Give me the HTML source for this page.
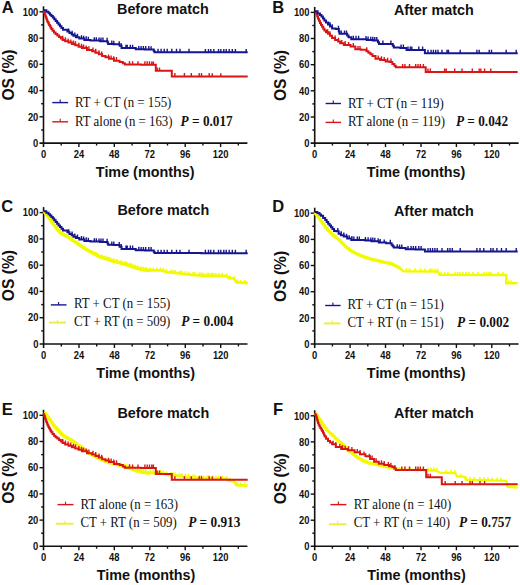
<!DOCTYPE html>
<html><head><meta charset="utf-8"><style>
html,body{margin:0;padding:0;background:#fff;}
body{width:520px;height:585px;overflow:hidden;}
svg{display:block;}
text{font-family:"Liberation Sans",sans-serif;fill:#111;}
.tk{font-size:10.4px;font-weight:bold;}
.tt{font-size:14.9px;font-weight:bold;}
.os{font-size:15.6px;font-weight:bold;}
.pl{font-size:16.5px;font-weight:bold;}
.lg{font-family:"Liberation Serif",serif;font-size:14.2px;fill:#111;}
.pv{font-family:"Liberation Serif",serif;font-size:14.2px;font-weight:bold;fill:#111;}
</style></head><body>
<svg width="520" height="585" viewBox="0 0 520 585">
<rect width="520" height="585" fill="#fff"/>
<text x="1.8" y="12.7" class="pl">A</text>
<text transform="translate(162.9,14.3) scale(0.965,1)" class="tt" text-anchor="middle">Before match</text>
<text x="272.3" y="12.7" class="pl">B</text>
<text transform="translate(433.8,15.0) scale(0.965,1)" class="tt" text-anchor="middle">After match</text>
<text x="1.2" y="212.4" class="pl">C</text>
<text transform="translate(163.3,214.6) scale(0.965,1)" class="tt" text-anchor="middle">Before match</text>
<text x="272.3" y="212.4" class="pl">D</text>
<text transform="translate(433.9,215.8) scale(0.965,1)" class="tt" text-anchor="middle">After match</text>
<text x="1.8" y="415.3" class="pl">E</text>
<text transform="translate(163.3,417.6) scale(0.965,1)" class="tt" text-anchor="middle">Before match</text>
<text x="273.1" y="415.2" class="pl">F</text>
<text transform="translate(433.9,418.1) scale(0.965,1)" class="tt" text-anchor="middle">After match</text>
<text transform="translate(14.2,75.0) rotate(-90)" class="os" text-anchor="middle">OS (%)</text>
<text transform="translate(145.2,176.9) scale(0.965,1)" class="tt" text-anchor="middle">Time (months)</text>
<text transform="translate(285.5,75.5) rotate(-90)" class="os" text-anchor="middle">OS (%)</text>
<text transform="translate(416.0,177.3) scale(0.965,1)" class="tt" text-anchor="middle">Time (months)</text>
<text transform="translate(14.2,275.6) rotate(-90)" class="os" text-anchor="middle">OS (%)</text>
<text transform="translate(145.7,378.0) scale(0.965,1)" class="tt" text-anchor="middle">Time (months)</text>
<text transform="translate(285.5,276.4) rotate(-90)" class="os" text-anchor="middle">OS (%)</text>
<text transform="translate(416.2,378.3) scale(0.965,1)" class="tt" text-anchor="middle">Time (months)</text>
<text transform="translate(14.2,478.2) rotate(-90)" class="os" text-anchor="middle">OS (%)</text>
<text transform="translate(146.0,579.5) scale(0.965,1)" class="tt" text-anchor="middle">Time (months)</text>
<text transform="translate(285.5,478.8) rotate(-90)" class="os" text-anchor="middle">OS (%)</text>
<text transform="translate(416.5,579.8) scale(0.965,1)" class="tt" text-anchor="middle">Time (months)</text>
<line x1="43.5" y1="6.3" x2="43.5" y2="147.1" stroke="#111111" stroke-width="1.6"/>
<line x1="39.5" y1="143.1" x2="247.4" y2="143.1" stroke="#111111" stroke-width="1.6"/>
<text transform="translate(38.3,146.8) scale(0.9,1)" class="tk" text-anchor="end">0</text>
<line x1="41.1" y1="130.0" x2="43.5" y2="130.0" stroke="#111111" stroke-width="1.4"/>
<line x1="39.5" y1="116.8" x2="43.5" y2="116.8" stroke="#111111" stroke-width="1.4"/>
<text transform="translate(38.3,120.5) scale(0.9,1)" class="tk" text-anchor="end">20</text>
<line x1="41.1" y1="103.7" x2="43.5" y2="103.7" stroke="#111111" stroke-width="1.4"/>
<line x1="39.5" y1="90.6" x2="43.5" y2="90.6" stroke="#111111" stroke-width="1.4"/>
<text transform="translate(38.3,94.3) scale(0.9,1)" class="tk" text-anchor="end">40</text>
<line x1="41.1" y1="77.5" x2="43.5" y2="77.5" stroke="#111111" stroke-width="1.4"/>
<line x1="39.5" y1="64.3" x2="43.5" y2="64.3" stroke="#111111" stroke-width="1.4"/>
<text transform="translate(38.3,68.0) scale(0.9,1)" class="tk" text-anchor="end">60</text>
<line x1="41.1" y1="51.2" x2="43.5" y2="51.2" stroke="#111111" stroke-width="1.4"/>
<line x1="39.5" y1="38.1" x2="43.5" y2="38.1" stroke="#111111" stroke-width="1.4"/>
<text transform="translate(38.3,41.8) scale(0.9,1)" class="tk" text-anchor="end">80</text>
<line x1="41.1" y1="24.9" x2="43.5" y2="24.9" stroke="#111111" stroke-width="1.4"/>
<line x1="39.5" y1="11.8" x2="43.5" y2="11.8" stroke="#111111" stroke-width="1.4"/>
<text transform="translate(38.3,15.5) scale(0.9,1)" class="tk" text-anchor="end">100</text>
<text transform="translate(43.5,157.9) scale(0.9,1)" class="tk" text-anchor="middle">0</text>
<line x1="61.2" y1="143.1" x2="61.2" y2="145.5" stroke="#111111" stroke-width="1.4"/>
<line x1="78.9" y1="143.1" x2="78.9" y2="147.1" stroke="#111111" stroke-width="1.4"/>
<text transform="translate(78.9,157.9) scale(0.9,1)" class="tk" text-anchor="middle">24</text>
<line x1="96.6" y1="143.1" x2="96.6" y2="145.5" stroke="#111111" stroke-width="1.4"/>
<line x1="114.3" y1="143.1" x2="114.3" y2="147.1" stroke="#111111" stroke-width="1.4"/>
<text transform="translate(114.3,157.9) scale(0.9,1)" class="tk" text-anchor="middle">48</text>
<line x1="132.1" y1="143.1" x2="132.1" y2="145.5" stroke="#111111" stroke-width="1.4"/>
<line x1="149.8" y1="143.1" x2="149.8" y2="147.1" stroke="#111111" stroke-width="1.4"/>
<text transform="translate(149.8,157.9) scale(0.9,1)" class="tk" text-anchor="middle">72</text>
<line x1="167.5" y1="143.1" x2="167.5" y2="145.5" stroke="#111111" stroke-width="1.4"/>
<line x1="185.2" y1="143.1" x2="185.2" y2="147.1" stroke="#111111" stroke-width="1.4"/>
<text transform="translate(185.2,157.9) scale(0.9,1)" class="tk" text-anchor="middle">96</text>
<line x1="202.9" y1="143.1" x2="202.9" y2="145.5" stroke="#111111" stroke-width="1.4"/>
<line x1="220.6" y1="143.1" x2="220.6" y2="147.1" stroke="#111111" stroke-width="1.4"/>
<text transform="translate(220.6,157.9) scale(0.9,1)" class="tk" text-anchor="middle">120</text>
<line x1="238.3" y1="143.1" x2="238.3" y2="145.5" stroke="#111111" stroke-width="1.4"/>
<line x1="314.7" y1="6.9" x2="314.7" y2="147.1" stroke="#111111" stroke-width="1.6"/>
<line x1="310.7" y1="143.1" x2="518.6" y2="143.1" stroke="#111111" stroke-width="1.6"/>
<text transform="translate(309.5,146.8) scale(0.9,1)" class="tk" text-anchor="end">0</text>
<line x1="312.3" y1="130.0" x2="314.7" y2="130.0" stroke="#111111" stroke-width="1.4"/>
<line x1="310.7" y1="117.0" x2="314.7" y2="117.0" stroke="#111111" stroke-width="1.4"/>
<text transform="translate(309.5,120.7) scale(0.9,1)" class="tk" text-anchor="end">20</text>
<line x1="312.3" y1="103.9" x2="314.7" y2="103.9" stroke="#111111" stroke-width="1.4"/>
<line x1="310.7" y1="90.8" x2="314.7" y2="90.8" stroke="#111111" stroke-width="1.4"/>
<text transform="translate(309.5,94.5) scale(0.9,1)" class="tk" text-anchor="end">40</text>
<line x1="312.3" y1="77.8" x2="314.7" y2="77.8" stroke="#111111" stroke-width="1.4"/>
<line x1="310.7" y1="64.7" x2="314.7" y2="64.7" stroke="#111111" stroke-width="1.4"/>
<text transform="translate(309.5,68.4) scale(0.9,1)" class="tk" text-anchor="end">60</text>
<line x1="312.3" y1="51.6" x2="314.7" y2="51.6" stroke="#111111" stroke-width="1.4"/>
<line x1="310.7" y1="38.5" x2="314.7" y2="38.5" stroke="#111111" stroke-width="1.4"/>
<text transform="translate(309.5,42.2) scale(0.9,1)" class="tk" text-anchor="end">80</text>
<line x1="312.3" y1="25.5" x2="314.7" y2="25.5" stroke="#111111" stroke-width="1.4"/>
<line x1="310.7" y1="12.4" x2="314.7" y2="12.4" stroke="#111111" stroke-width="1.4"/>
<text transform="translate(309.5,16.1) scale(0.9,1)" class="tk" text-anchor="end">100</text>
<text transform="translate(314.7,157.9) scale(0.9,1)" class="tk" text-anchor="middle">0</text>
<line x1="332.4" y1="143.1" x2="332.4" y2="145.5" stroke="#111111" stroke-width="1.4"/>
<line x1="350.1" y1="143.1" x2="350.1" y2="147.1" stroke="#111111" stroke-width="1.4"/>
<text transform="translate(350.1,157.9) scale(0.9,1)" class="tk" text-anchor="middle">24</text>
<line x1="367.8" y1="143.1" x2="367.8" y2="145.5" stroke="#111111" stroke-width="1.4"/>
<line x1="385.5" y1="143.1" x2="385.5" y2="147.1" stroke="#111111" stroke-width="1.4"/>
<text transform="translate(385.5,157.9) scale(0.9,1)" class="tk" text-anchor="middle">48</text>
<line x1="403.3" y1="143.1" x2="403.3" y2="145.5" stroke="#111111" stroke-width="1.4"/>
<line x1="421.0" y1="143.1" x2="421.0" y2="147.1" stroke="#111111" stroke-width="1.4"/>
<text transform="translate(421.0,157.9) scale(0.9,1)" class="tk" text-anchor="middle">72</text>
<line x1="438.7" y1="143.1" x2="438.7" y2="145.5" stroke="#111111" stroke-width="1.4"/>
<line x1="456.4" y1="143.1" x2="456.4" y2="147.1" stroke="#111111" stroke-width="1.4"/>
<text transform="translate(456.4,157.9) scale(0.9,1)" class="tk" text-anchor="middle">96</text>
<line x1="474.1" y1="143.1" x2="474.1" y2="145.5" stroke="#111111" stroke-width="1.4"/>
<line x1="491.8" y1="143.1" x2="491.8" y2="147.1" stroke="#111111" stroke-width="1.4"/>
<text transform="translate(491.8,157.9) scale(0.9,1)" class="tk" text-anchor="middle">120</text>
<line x1="509.5" y1="143.1" x2="509.5" y2="145.5" stroke="#111111" stroke-width="1.4"/>
<line x1="43.6" y1="207.1" x2="43.6" y2="348.0" stroke="#111111" stroke-width="1.6"/>
<line x1="39.6" y1="344.0" x2="247.5" y2="344.0" stroke="#111111" stroke-width="1.6"/>
<text transform="translate(38.4,347.7) scale(0.9,1)" class="tk" text-anchor="end">0</text>
<line x1="41.2" y1="330.9" x2="43.6" y2="330.9" stroke="#111111" stroke-width="1.4"/>
<line x1="39.6" y1="317.7" x2="43.6" y2="317.7" stroke="#111111" stroke-width="1.4"/>
<text transform="translate(38.4,321.4) scale(0.9,1)" class="tk" text-anchor="end">20</text>
<line x1="41.2" y1="304.6" x2="43.6" y2="304.6" stroke="#111111" stroke-width="1.4"/>
<line x1="39.6" y1="291.4" x2="43.6" y2="291.4" stroke="#111111" stroke-width="1.4"/>
<text transform="translate(38.4,295.1) scale(0.9,1)" class="tk" text-anchor="end">40</text>
<line x1="41.2" y1="278.3" x2="43.6" y2="278.3" stroke="#111111" stroke-width="1.4"/>
<line x1="39.6" y1="265.2" x2="43.6" y2="265.2" stroke="#111111" stroke-width="1.4"/>
<text transform="translate(38.4,268.9) scale(0.9,1)" class="tk" text-anchor="end">60</text>
<line x1="41.2" y1="252.0" x2="43.6" y2="252.0" stroke="#111111" stroke-width="1.4"/>
<line x1="39.6" y1="238.9" x2="43.6" y2="238.9" stroke="#111111" stroke-width="1.4"/>
<text transform="translate(38.4,242.6) scale(0.9,1)" class="tk" text-anchor="end">80</text>
<line x1="41.2" y1="225.7" x2="43.6" y2="225.7" stroke="#111111" stroke-width="1.4"/>
<line x1="39.6" y1="212.6" x2="43.6" y2="212.6" stroke="#111111" stroke-width="1.4"/>
<text transform="translate(38.4,216.3) scale(0.9,1)" class="tk" text-anchor="end">100</text>
<text transform="translate(43.6,358.8) scale(0.9,1)" class="tk" text-anchor="middle">0</text>
<line x1="61.3" y1="344.0" x2="61.3" y2="346.4" stroke="#111111" stroke-width="1.4"/>
<line x1="79.0" y1="344.0" x2="79.0" y2="348.0" stroke="#111111" stroke-width="1.4"/>
<text transform="translate(79.0,358.8) scale(0.9,1)" class="tk" text-anchor="middle">24</text>
<line x1="96.7" y1="344.0" x2="96.7" y2="346.4" stroke="#111111" stroke-width="1.4"/>
<line x1="114.4" y1="344.0" x2="114.4" y2="348.0" stroke="#111111" stroke-width="1.4"/>
<text transform="translate(114.4,358.8) scale(0.9,1)" class="tk" text-anchor="middle">48</text>
<line x1="132.2" y1="344.0" x2="132.2" y2="346.4" stroke="#111111" stroke-width="1.4"/>
<line x1="149.9" y1="344.0" x2="149.9" y2="348.0" stroke="#111111" stroke-width="1.4"/>
<text transform="translate(149.9,358.8) scale(0.9,1)" class="tk" text-anchor="middle">72</text>
<line x1="167.6" y1="344.0" x2="167.6" y2="346.4" stroke="#111111" stroke-width="1.4"/>
<line x1="185.3" y1="344.0" x2="185.3" y2="348.0" stroke="#111111" stroke-width="1.4"/>
<text transform="translate(185.3,358.8) scale(0.9,1)" class="tk" text-anchor="middle">96</text>
<line x1="203.0" y1="344.0" x2="203.0" y2="346.4" stroke="#111111" stroke-width="1.4"/>
<line x1="220.7" y1="344.0" x2="220.7" y2="348.0" stroke="#111111" stroke-width="1.4"/>
<text transform="translate(220.7,358.8) scale(0.9,1)" class="tk" text-anchor="middle">120</text>
<line x1="238.4" y1="344.0" x2="238.4" y2="346.4" stroke="#111111" stroke-width="1.4"/>
<line x1="314.7" y1="207.7" x2="314.7" y2="348.0" stroke="#111111" stroke-width="1.6"/>
<line x1="310.7" y1="344.0" x2="518.6" y2="344.0" stroke="#111111" stroke-width="1.6"/>
<text transform="translate(309.5,347.7) scale(0.9,1)" class="tk" text-anchor="end">0</text>
<line x1="312.3" y1="330.9" x2="314.7" y2="330.9" stroke="#111111" stroke-width="1.4"/>
<line x1="310.7" y1="317.8" x2="314.7" y2="317.8" stroke="#111111" stroke-width="1.4"/>
<text transform="translate(309.5,321.5) scale(0.9,1)" class="tk" text-anchor="end">20</text>
<line x1="312.3" y1="304.8" x2="314.7" y2="304.8" stroke="#111111" stroke-width="1.4"/>
<line x1="310.7" y1="291.7" x2="314.7" y2="291.7" stroke="#111111" stroke-width="1.4"/>
<text transform="translate(309.5,295.4) scale(0.9,1)" class="tk" text-anchor="end">40</text>
<line x1="312.3" y1="278.6" x2="314.7" y2="278.6" stroke="#111111" stroke-width="1.4"/>
<line x1="310.7" y1="265.5" x2="314.7" y2="265.5" stroke="#111111" stroke-width="1.4"/>
<text transform="translate(309.5,269.2) scale(0.9,1)" class="tk" text-anchor="end">60</text>
<line x1="312.3" y1="252.4" x2="314.7" y2="252.4" stroke="#111111" stroke-width="1.4"/>
<line x1="310.7" y1="239.4" x2="314.7" y2="239.4" stroke="#111111" stroke-width="1.4"/>
<text transform="translate(309.5,243.1) scale(0.9,1)" class="tk" text-anchor="end">80</text>
<line x1="312.3" y1="226.3" x2="314.7" y2="226.3" stroke="#111111" stroke-width="1.4"/>
<line x1="310.7" y1="213.2" x2="314.7" y2="213.2" stroke="#111111" stroke-width="1.4"/>
<text transform="translate(309.5,216.9) scale(0.9,1)" class="tk" text-anchor="end">100</text>
<text transform="translate(314.7,358.8) scale(0.9,1)" class="tk" text-anchor="middle">0</text>
<line x1="332.4" y1="344.0" x2="332.4" y2="346.4" stroke="#111111" stroke-width="1.4"/>
<line x1="350.1" y1="344.0" x2="350.1" y2="348.0" stroke="#111111" stroke-width="1.4"/>
<text transform="translate(350.1,358.8) scale(0.9,1)" class="tk" text-anchor="middle">24</text>
<line x1="367.8" y1="344.0" x2="367.8" y2="346.4" stroke="#111111" stroke-width="1.4"/>
<line x1="385.5" y1="344.0" x2="385.5" y2="348.0" stroke="#111111" stroke-width="1.4"/>
<text transform="translate(385.5,358.8) scale(0.9,1)" class="tk" text-anchor="middle">48</text>
<line x1="403.3" y1="344.0" x2="403.3" y2="346.4" stroke="#111111" stroke-width="1.4"/>
<line x1="421.0" y1="344.0" x2="421.0" y2="348.0" stroke="#111111" stroke-width="1.4"/>
<text transform="translate(421.0,358.8) scale(0.9,1)" class="tk" text-anchor="middle">72</text>
<line x1="438.7" y1="344.0" x2="438.7" y2="346.4" stroke="#111111" stroke-width="1.4"/>
<line x1="456.4" y1="344.0" x2="456.4" y2="348.0" stroke="#111111" stroke-width="1.4"/>
<text transform="translate(456.4,358.8) scale(0.9,1)" class="tk" text-anchor="middle">96</text>
<line x1="474.1" y1="344.0" x2="474.1" y2="346.4" stroke="#111111" stroke-width="1.4"/>
<line x1="491.8" y1="344.0" x2="491.8" y2="348.0" stroke="#111111" stroke-width="1.4"/>
<text transform="translate(491.8,358.8) scale(0.9,1)" class="tk" text-anchor="middle">120</text>
<line x1="509.5" y1="344.0" x2="509.5" y2="346.4" stroke="#111111" stroke-width="1.4"/>
<line x1="43.5" y1="409.8" x2="43.5" y2="550.3" stroke="#111111" stroke-width="1.6"/>
<line x1="39.5" y1="546.3" x2="247.4" y2="546.3" stroke="#111111" stroke-width="1.6"/>
<text transform="translate(38.3,550.0) scale(0.9,1)" class="tk" text-anchor="end">0</text>
<line x1="41.1" y1="533.2" x2="43.5" y2="533.2" stroke="#111111" stroke-width="1.4"/>
<line x1="39.5" y1="520.1" x2="43.5" y2="520.1" stroke="#111111" stroke-width="1.4"/>
<text transform="translate(38.3,523.8) scale(0.9,1)" class="tk" text-anchor="end">20</text>
<line x1="41.1" y1="507.0" x2="43.5" y2="507.0" stroke="#111111" stroke-width="1.4"/>
<line x1="39.5" y1="493.9" x2="43.5" y2="493.9" stroke="#111111" stroke-width="1.4"/>
<text transform="translate(38.3,497.6) scale(0.9,1)" class="tk" text-anchor="end">40</text>
<line x1="41.1" y1="480.8" x2="43.5" y2="480.8" stroke="#111111" stroke-width="1.4"/>
<line x1="39.5" y1="467.7" x2="43.5" y2="467.7" stroke="#111111" stroke-width="1.4"/>
<text transform="translate(38.3,471.4) scale(0.9,1)" class="tk" text-anchor="end">60</text>
<line x1="41.1" y1="454.6" x2="43.5" y2="454.6" stroke="#111111" stroke-width="1.4"/>
<line x1="39.5" y1="441.5" x2="43.5" y2="441.5" stroke="#111111" stroke-width="1.4"/>
<text transform="translate(38.3,445.2) scale(0.9,1)" class="tk" text-anchor="end">80</text>
<line x1="41.1" y1="428.4" x2="43.5" y2="428.4" stroke="#111111" stroke-width="1.4"/>
<line x1="39.5" y1="415.3" x2="43.5" y2="415.3" stroke="#111111" stroke-width="1.4"/>
<text transform="translate(38.3,419.0) scale(0.9,1)" class="tk" text-anchor="end">100</text>
<text transform="translate(43.5,561.1) scale(0.9,1)" class="tk" text-anchor="middle">0</text>
<line x1="61.2" y1="546.3" x2="61.2" y2="548.6999999999999" stroke="#111111" stroke-width="1.4"/>
<line x1="78.9" y1="546.3" x2="78.9" y2="550.3" stroke="#111111" stroke-width="1.4"/>
<text transform="translate(78.9,561.1) scale(0.9,1)" class="tk" text-anchor="middle">24</text>
<line x1="96.6" y1="546.3" x2="96.6" y2="548.6999999999999" stroke="#111111" stroke-width="1.4"/>
<line x1="114.3" y1="546.3" x2="114.3" y2="550.3" stroke="#111111" stroke-width="1.4"/>
<text transform="translate(114.3,561.1) scale(0.9,1)" class="tk" text-anchor="middle">48</text>
<line x1="132.1" y1="546.3" x2="132.1" y2="548.6999999999999" stroke="#111111" stroke-width="1.4"/>
<line x1="149.8" y1="546.3" x2="149.8" y2="550.3" stroke="#111111" stroke-width="1.4"/>
<text transform="translate(149.8,561.1) scale(0.9,1)" class="tk" text-anchor="middle">72</text>
<line x1="167.5" y1="546.3" x2="167.5" y2="548.6999999999999" stroke="#111111" stroke-width="1.4"/>
<line x1="185.2" y1="546.3" x2="185.2" y2="550.3" stroke="#111111" stroke-width="1.4"/>
<text transform="translate(185.2,561.1) scale(0.9,1)" class="tk" text-anchor="middle">96</text>
<line x1="202.9" y1="546.3" x2="202.9" y2="548.6999999999999" stroke="#111111" stroke-width="1.4"/>
<line x1="220.6" y1="546.3" x2="220.6" y2="550.3" stroke="#111111" stroke-width="1.4"/>
<text transform="translate(220.6,561.1) scale(0.9,1)" class="tk" text-anchor="middle">120</text>
<line x1="238.3" y1="546.3" x2="238.3" y2="548.6999999999999" stroke="#111111" stroke-width="1.4"/>
<line x1="314.7" y1="410.3" x2="314.7" y2="550.3" stroke="#111111" stroke-width="1.6"/>
<line x1="310.7" y1="546.3" x2="518.6" y2="546.3" stroke="#111111" stroke-width="1.6"/>
<text transform="translate(309.5,550.0) scale(0.9,1)" class="tk" text-anchor="end">0</text>
<line x1="312.3" y1="533.2" x2="314.7" y2="533.2" stroke="#111111" stroke-width="1.4"/>
<line x1="310.7" y1="520.2" x2="314.7" y2="520.2" stroke="#111111" stroke-width="1.4"/>
<text transform="translate(309.5,523.9) scale(0.9,1)" class="tk" text-anchor="end">20</text>
<line x1="312.3" y1="507.1" x2="314.7" y2="507.1" stroke="#111111" stroke-width="1.4"/>
<line x1="310.7" y1="494.1" x2="314.7" y2="494.1" stroke="#111111" stroke-width="1.4"/>
<text transform="translate(309.5,497.8) scale(0.9,1)" class="tk" text-anchor="end">40</text>
<line x1="312.3" y1="481.0" x2="314.7" y2="481.0" stroke="#111111" stroke-width="1.4"/>
<line x1="310.7" y1="468.0" x2="314.7" y2="468.0" stroke="#111111" stroke-width="1.4"/>
<text transform="translate(309.5,471.7) scale(0.9,1)" class="tk" text-anchor="end">60</text>
<line x1="312.3" y1="454.9" x2="314.7" y2="454.9" stroke="#111111" stroke-width="1.4"/>
<line x1="310.7" y1="441.9" x2="314.7" y2="441.9" stroke="#111111" stroke-width="1.4"/>
<text transform="translate(309.5,445.6) scale(0.9,1)" class="tk" text-anchor="end">80</text>
<line x1="312.3" y1="428.9" x2="314.7" y2="428.9" stroke="#111111" stroke-width="1.4"/>
<line x1="310.7" y1="415.8" x2="314.7" y2="415.8" stroke="#111111" stroke-width="1.4"/>
<text transform="translate(309.5,419.5) scale(0.9,1)" class="tk" text-anchor="end">100</text>
<text transform="translate(314.7,561.1) scale(0.9,1)" class="tk" text-anchor="middle">0</text>
<line x1="332.4" y1="546.3" x2="332.4" y2="548.6999999999999" stroke="#111111" stroke-width="1.4"/>
<line x1="350.1" y1="546.3" x2="350.1" y2="550.3" stroke="#111111" stroke-width="1.4"/>
<text transform="translate(350.1,561.1) scale(0.9,1)" class="tk" text-anchor="middle">24</text>
<line x1="367.8" y1="546.3" x2="367.8" y2="548.6999999999999" stroke="#111111" stroke-width="1.4"/>
<line x1="385.5" y1="546.3" x2="385.5" y2="550.3" stroke="#111111" stroke-width="1.4"/>
<text transform="translate(385.5,561.1) scale(0.9,1)" class="tk" text-anchor="middle">48</text>
<line x1="403.3" y1="546.3" x2="403.3" y2="548.6999999999999" stroke="#111111" stroke-width="1.4"/>
<line x1="421.0" y1="546.3" x2="421.0" y2="550.3" stroke="#111111" stroke-width="1.4"/>
<text transform="translate(421.0,561.1) scale(0.9,1)" class="tk" text-anchor="middle">72</text>
<line x1="438.7" y1="546.3" x2="438.7" y2="548.6999999999999" stroke="#111111" stroke-width="1.4"/>
<line x1="456.4" y1="546.3" x2="456.4" y2="550.3" stroke="#111111" stroke-width="1.4"/>
<text transform="translate(456.4,561.1) scale(0.9,1)" class="tk" text-anchor="middle">96</text>
<line x1="474.1" y1="546.3" x2="474.1" y2="548.6999999999999" stroke="#111111" stroke-width="1.4"/>
<line x1="491.8" y1="546.3" x2="491.8" y2="550.3" stroke="#111111" stroke-width="1.4"/>
<text transform="translate(491.8,561.1) scale(0.9,1)" class="tk" text-anchor="middle">120</text>
<line x1="509.5" y1="546.3" x2="509.5" y2="548.6999999999999" stroke="#111111" stroke-width="1.4"/>
<path d="M43.80,10.80 L43.90,10.80 L43.90,11.20 L44.00,11.20 L44.25,11.20 L44.25,12.73 L44.75,12.73 L44.75,14.27 L45.25,14.27 L45.25,15.80 L45.50,15.80 L45.78,15.80 L45.78,17.33 L46.35,17.33 L46.35,18.87 L46.92,18.87 L46.92,20.40 L47.20,20.40 L47.58,20.40 L47.58,21.93 L48.35,21.93 L48.35,23.47 L49.12,23.47 L49.12,25.00 L49.50,25.00 L49.88,25.00 L49.88,26.37 L50.65,26.37 L50.65,27.73 L51.42,27.73 L51.42,29.10 L51.80,29.10 L52.52,29.10 L52.52,30.80 L53.98,30.80 L53.98,32.50 L54.70,32.50 L55.58,32.50 L55.58,33.95 L57.33,33.95 L57.33,35.40 L58.20,35.40 L59.08,35.40 L59.08,36.90 L60.85,36.90 L60.85,38.40 L62.62,38.40 L62.62,39.90 L63.50,39.90 L65.17,39.90 L65.17,41.25 L68.53,41.25 L68.53,42.60 L70.20,42.60 L71.88,42.60 L71.88,43.95 L75.23,43.95 L75.23,45.30 L76.90,45.30 L78.58,45.30 L78.58,46.65 L81.92,46.65 L81.92,48.00 L83.60,48.00 L87.00,48.00 L87.00,50.00 L90.40,50.00 L92.08,50.00 L92.08,51.35 L95.42,51.35 L95.42,52.70 L97.10,52.70 L98.77,52.70 L98.77,54.35 L102.12,54.35 L102.12,56.00 L103.80,56.00 L105.50,56.00 L105.50,57.35 L108.90,57.35 L108.90,58.70 L110.60,58.70 L113.95,58.70 L113.95,60.70 L117.30,60.70 L119.60,60.70 L119.60,61.90 L121.90,61.90 L122.88,61.90 L122.88,63.20 L124.83,63.20 L124.83,64.50 L125.80,64.50 L140.80,64.50 L140.80,64.80 L155.80,64.80 L155.80,64.80 L155.80,70.80 L171.80,70.80 L171.80,70.80 L171.80,70.80 L171.80,76.50 L209.75,76.50 L209.75,76.60 L247.70,76.60" fill="none" stroke="#d81616" stroke-width="2.0" stroke-linejoin="miter" stroke-linecap="butt"/>
<path d="M62.7,39.2 v-3.4 M65.4,40.7 v-3.4 M68.1,41.8 v-3.4 M70.8,42.8 v-3.4 M73.5,43.9 v-3.4 M75.5,44.7 v-3.4 M78.8,46.1 v-3.4 M81.5,47.2 v-3.4 M83.6,48.0 v-3.4 M86.2,48.8 v-3.4 M88.9,49.6 v-3.4 M93.0,51.0 v-3.4 M95.7,52.1 v-3.4 M99.0,53.6 v-3.4 M101.7,55.0 v-3.4 M108.5,57.9 v-3.4 M111.1,58.8 v-3.4 M113.8,59.7 v-3.4 M116.5,60.5 v-3.4 M129.5,64.5 v-3.4 M132.6,64.6 v-3.4 M138.0,64.6 v-3.4 M144.9,64.7 v-3.4 M147.2,64.7 v-3.4 M149.5,64.7 v-3.4 M151.8,64.8 v-3.4 M153.4,64.8 v-3.4 M157.2,70.8 v-3.4 M159.5,70.8 v-3.4 M174.9,76.5 v-3.4 M184.4,76.5 v-3.4 M191.3,76.5 v-3.4 M199.2,76.5 v-3.4 M201.5,76.5 v-3.4 M209.2,76.5 v-3.4 M212.3,76.6 v-3.4 M220.8,76.6 v-3.4 " fill="none" stroke="#d81616" stroke-width="1.4"/>

<path d="M43.80,10.30 L44.90,10.30 L44.90,10.30 L46.35,10.30 L46.35,11.80 L47.80,11.80 L48.52,11.80 L48.52,13.25 L49.98,13.25 L49.98,14.70 L50.70,14.70 L51.40,14.70 L51.40,16.10 L52.80,16.10 L52.80,17.50 L53.50,17.50 L54.23,17.50 L54.23,19.25 L55.67,19.25 L55.67,21.00 L56.40,21.00 L57.12,21.00 L57.12,22.75 L58.57,22.75 L58.57,24.50 L59.30,24.50 L60.02,24.50 L60.02,26.20 L61.48,26.20 L61.48,27.90 L62.20,27.90 L63.05,27.90 L63.05,29.70 L63.90,29.70 L66.80,29.70 L66.80,29.70 L67.40,29.70 L67.40,31.40 L68.00,31.40 L69.45,31.40 L69.45,33.10 L70.90,33.10 L71.73,33.10 L71.73,34.45 L73.38,34.45 L73.38,35.80 L74.20,35.80 L75.90,35.80 L75.90,37.15 L79.30,37.15 L79.30,38.50 L81.00,38.50 L84.35,38.50 L84.35,40.10 L87.70,40.10 L90.40,40.10 L90.40,40.60 L93.10,40.60 L100.15,40.60 L100.15,41.20 L107.20,41.20 L107.53,41.20 L107.53,42.55 L108.17,42.55 L108.17,43.90 L108.50,43.90 L113.65,43.90 L113.65,44.20 L118.80,44.20 L119.60,44.20 L119.60,45.80 L120.40,45.80 L121.55,45.80 L121.55,48.10 L122.70,48.10 L135.00,48.10 L135.00,48.10 L135.75,48.10 L135.75,49.30 L136.50,49.30 L144.95,49.30 L144.95,49.60 L153.40,49.60 L153.78,49.60 L153.78,50.90 L154.53,50.90 L154.53,52.20 L154.90,52.20 L201.30,52.20 L201.30,52.30 L247.70,52.30" fill="none" stroke="#161690" stroke-width="2.0" stroke-linejoin="miter" stroke-linecap="butt"/>
<path d="M68.7,31.8 v-3.4 M72.1,34.1 v-3.4 M74.8,36.0 v-3.4 M77.5,37.1 v-3.4 M81.5,38.6 v-3.4 M83.6,39.1 v-3.4 M86.2,39.7 v-3.4 M88.3,40.2 v-3.4 M94.3,40.7 v-3.4 M96.3,40.7 v-3.4 M99.0,40.9 v-3.4 M101.0,40.9 v-3.4 M103.0,41.0 v-3.4 M107.1,41.2 v-3.4 M111.8,44.0 v-3.4 M113.8,44.1 v-3.4 M119.2,44.6 v-3.4 M121.2,46.6 v-3.4 M126.0,48.1 v-3.4 M127.2,48.1 v-3.4 M130.3,48.1 v-3.4 M132.6,48.1 v-3.4 M138.8,49.3 v-3.4 M141.1,49.4 v-3.4 M143.4,49.4 v-3.4 M145.7,49.5 v-3.4 M148.8,49.5 v-3.4 M151.1,49.6 v-3.4 M158.0,52.2 v-3.4 M161.1,52.2 v-3.4 M164.2,52.2 v-3.4 M167.2,52.2 v-3.4 M171.8,52.2 v-3.4 M176.5,52.2 v-3.4 M180.0,52.2 v-3.4 M189.0,52.2 v-3.4 M205.4,52.3 v-3.4 M208.5,52.3 v-3.4 M210.8,52.3 v-3.4 M213.8,52.3 v-3.4 M218.5,52.3 v-3.4 M220.8,52.3 v-3.4 M223.8,52.3 v-3.4 M226.2,52.3 v-3.4 M229.2,52.3 v-3.4 M232.3,52.3 v-3.4 M235.4,52.3 v-3.4 M246.2,52.3 v-3.4 " fill="none" stroke="#161690" stroke-width="1.4"/>

<path d="M314.80,11.90 L316.10,11.90 L316.10,11.90 L316.48,11.90 L316.48,14.20 L317.25,14.20 L317.25,16.50 L318.02,16.50 L318.02,18.80 L318.40,18.80 L318.92,18.80 L318.92,20.87 L319.95,20.87 L319.95,22.93 L320.98,22.93 L320.98,25.00 L321.50,25.00 L322.08,25.00 L322.08,26.83 L323.25,26.83 L323.25,28.67 L324.42,28.67 L324.42,30.50 L325.00,30.50 L326.00,30.50 L326.00,32.15 L328.00,32.15 L328.00,33.80 L329.00,33.80 L330.02,33.80 L330.02,35.85 L332.08,35.85 L332.08,37.90 L333.10,37.90 L335.10,37.90 L335.10,39.90 L337.10,39.90 L338.12,39.90 L338.12,41.60 L340.18,41.60 L340.18,43.30 L341.20,43.30 L343.85,43.30 L343.85,44.90 L346.50,44.90 L350.55,44.90 L350.55,46.60 L354.60,46.60 L355.30,46.60 L355.30,49.30 L356.00,49.30 L360.70,49.30 L360.70,49.70 L365.40,49.70 L366.40,49.70 L366.40,51.20 L368.40,51.20 L368.40,52.70 L369.40,52.70 L370.42,52.70 L370.42,54.35 L372.48,54.35 L372.48,56.00 L373.50,56.00 L375.50,56.00 L375.50,58.70 L377.50,58.70 L380.20,58.70 L380.20,60.10 L382.90,60.10 L385.60,60.10 L385.60,61.40 L388.30,61.40 L389.70,61.40 L389.70,62.00 L391.10,62.00 L392.35,62.00 L392.35,64.10 L393.60,64.10 L394.33,64.10 L394.33,65.70 L395.77,65.70 L395.77,67.30 L396.50,67.30 L425.70,67.30 L425.70,67.30 L425.70,67.30 L425.70,71.90 L517.70,71.90 L517.70,71.90" fill="none" stroke="#d81616" stroke-width="2.0" stroke-linejoin="miter" stroke-linecap="butt"/>
<path d="M327.6,32.6 v-3.4 M329.9,34.7 v-3.4 M335.1,38.9 v-3.4 M338.5,41.1 v-3.4 M341.8,43.5 v-3.4 M345.2,44.5 v-3.4 M348.6,45.3 v-3.4 M353.3,46.3 v-3.4 M358.0,49.4 v-3.4 M360.0,49.5 v-3.4 M366.7,50.7 v-3.4 M378.2,58.9 v-3.4 M381.5,59.7 v-3.4 M384.2,60.4 v-3.4 M387.6,61.2 v-3.4 M391.0,62.0 v-3.4 M402.6,67.3 v-3.4 M404.9,67.3 v-3.4 M409.5,67.3 v-3.4 M415.7,67.3 v-3.4 M418.0,67.3 v-3.4 M420.3,67.3 v-3.4 M423.4,67.3 v-3.4 M428.0,71.9 v-3.4 M430.3,71.9 v-3.4 M444.6,71.9 v-3.4 M446.2,71.9 v-3.4 M454.7,71.9 v-3.4 M462.0,71.9 v-3.4 M472.3,71.9 v-3.4 M479.2,71.9 v-3.4 M480.8,71.9 v-3.4 M484.6,71.9 v-3.4 M490.8,71.9 v-3.4 " fill="none" stroke="#d81616" stroke-width="1.4"/>

<path d="M314.80,11.20 L316.10,11.20 L316.10,11.20 L317.65,11.20 L317.65,13.50 L319.20,13.50 L319.95,13.50 L319.95,15.00 L321.45,15.00 L321.45,16.50 L322.20,16.50 L322.90,16.50 L322.90,18.45 L324.30,18.45 L324.30,20.40 L325.00,20.40 L326.00,20.40 L326.00,22.40 L328.00,22.40 L328.00,24.40 L329.00,24.40 L330.02,24.40 L330.02,26.45 L332.08,26.45 L332.08,28.50 L333.10,28.50 L335.80,28.50 L335.80,29.10 L338.50,29.10 L338.82,29.10 L338.82,31.45 L339.48,31.45 L339.48,33.80 L339.80,33.80 L346.50,33.80 L346.50,33.80 L347.18,33.80 L347.18,35.50 L348.52,35.50 L348.52,37.20 L349.20,37.20 L351.25,37.20 L351.25,39.20 L353.30,39.20 L365.40,39.20 L365.40,39.20 L366.75,39.20 L366.75,39.90 L368.10,39.90 L372.80,39.90 L372.80,40.60 L377.50,40.60 L378.00,40.60 L378.00,42.25 L379.00,42.25 L379.00,43.90 L379.50,43.90 L392.30,43.90 L392.30,43.90 L392.80,43.90 L392.80,45.75 L393.80,45.75 L393.80,47.60 L394.30,47.60 L400.40,47.60 L400.40,48.10 L406.50,48.10 L406.50,48.10 L406.50,49.90 L424.90,49.90 L424.90,49.90 L424.90,49.90 L424.90,53.20 L517.70,53.20 L517.70,53.20" fill="none" stroke="#161690" stroke-width="2.0" stroke-linejoin="miter" stroke-linecap="butt"/>
<path d="M329.9,25.3 v-3.4 M332.2,27.6 v-3.4 M338.5,29.1 v-3.4 M341.2,33.8 v-3.4 M344.5,33.8 v-3.4 M346.5,33.8 v-3.4 M353.3,39.2 v-3.4 M356.0,39.2 v-3.4 M358.6,39.2 v-3.4 M366.0,39.4 v-3.4 M368.1,39.9 v-3.4 M370.8,40.1 v-3.4 M372.8,40.2 v-3.4 M374.8,40.4 v-3.4 M376.8,40.5 v-3.4 M382.9,43.9 v-3.4 M390.9,43.9 v-3.4 M401.1,47.9 v-3.4 M403.4,48.0 v-3.4 M408.0,49.9 v-3.4 M410.3,49.9 v-3.4 M411.8,49.9 v-3.4 M418.8,49.9 v-3.4 M422.6,49.9 v-3.4 M428.0,53.2 v-3.4 M431.1,53.2 v-3.4 M433.4,53.2 v-3.4 M435.7,53.2 v-3.4 M438.0,53.2 v-3.4 M442.0,53.2 v-3.4 M447.0,53.2 v-3.4 M448.5,53.2 v-3.4 M460.2,53.2 v-3.4 M476.9,53.2 v-3.4 M479.2,53.2 v-3.4 M489.2,53.2 v-3.4 M491.5,53.2 v-3.4 M506.2,53.2 v-3.4 M516.2,53.2 v-3.4 " fill="none" stroke="#161690" stroke-width="1.4"/>

<path d="M43.80,211.50 L45.20,212.60 L49.80,219.00 L53.20,223.80 L56.70,228.40 L60.10,232.60 L64.80,235.40 L67.70,236.60 L71.00,239.00 L75.40,241.90 L79.00,244.50 L83.10,247.30 L87.00,249.90 L90.80,251.90 L94.50,253.80 L98.50,256.40 L104.00,258.00 L106.60,258.90 L112.80,261.00 L118.90,262.50 L124.20,263.90 L130.30,265.80 L136.50,268.10 L142.60,269.60 L148.80,270.40 L161.10,270.40 L167.20,272.20 L173.40,272.70 L179.50,273.40 L185.70,274.20 L191.80,274.80 L198.50,275.40 L210.80,275.80 L226.20,276.00 L228.80,278.10 L233.80,278.40 L236.60,282.50 L247.70,283.00" fill="none" stroke="#f2fa00" stroke-width="2.8" stroke-linejoin="miter" stroke-linecap="butt"/>
<path d="M96.0,254.8 v-3.0 M98.2,256.2 v-3.0 M101.8,257.4 v-3.0 M105.4,258.5 v-3.0 M107.6,259.2 v-3.0 M110.2,260.1 v-3.0 M113.8,261.2 v-3.0 M116.8,262.0 v-3.0 M121.3,263.1 v-3.0 M124.9,264.1 v-3.0 M126.7,264.7 v-3.0 M130.3,265.8 v-3.0 M132.1,266.5 v-3.0 M135.1,267.6 v-3.0 M137.7,268.4 v-3.0 M141.3,269.3 v-3.0 M143.5,269.7 v-3.0 M145.7,270.0 v-3.0 M150.2,270.4 v-3.0 M153.2,270.4 v-3.0 M156.8,270.4 v-3.0 M160.4,270.4 v-3.0 M163.4,271.1 v-3.0 M166.4,272.0 v-3.0 M170.9,272.5 v-3.0 M173.1,272.7 v-3.0 M175.3,272.9 v-3.0 M179.8,273.4 v-3.0 M182.0,273.7 v-3.0 M185.6,274.2 v-3.0 M188.6,274.5 v-3.0 M193.1,274.9 v-3.0 M194.9,275.1 v-3.0 M199.4,275.4 v-3.0 M201.2,275.5 v-3.0 M203.4,275.6 v-3.0 M207.0,275.7 v-3.0 M208.8,275.7 v-3.0 M211.4,275.8 v-3.0 M213.2,275.8 v-3.0 M215.8,275.9 v-3.0 M218.8,275.9 v-3.0 M222.4,276.0 v-3.0 M226.9,276.6 v-3.0 M229.9,278.2 v-3.0 M234.4,279.3 v-3.0 M237.4,282.5 v-3.0 M240.4,282.7 v-3.0 M244.9,282.9 v-3.0 " fill="none" stroke="#f2fa00" stroke-width="1.5"/>

<path d="M43.80,211.50 L45.20,212.60 L49.80,219.00 L53.20,223.80 L56.70,228.40 L60.10,232.60 L64.80,235.40 L67.70,236.60 L71.00,239.00 L75.40,241.90 L79.00,244.50 L83.10,247.30 L87.00,249.90 L90.80,251.90 L94.50,253.80 L98.50,256.40 L104.00,258.00 L106.60,258.90 L112.80,261.00 L118.90,262.50 L124.20,263.90 L130.30,265.80 L136.50,268.10 L142.60,269.60 L148.80,270.40 L150.00,270.40" fill="none" stroke="#f2fa00" stroke-width="3.6" stroke-linejoin="miter" stroke-linecap="butt"/>

<path d="M43.80,211.20 L44.90,211.20 L44.90,211.20 L46.35,211.20 L46.35,212.70 L47.80,212.70 L48.52,212.70 L48.52,214.15 L49.98,214.15 L49.98,215.60 L50.70,215.60 L51.40,215.60 L51.40,217.00 L52.80,217.00 L52.80,218.40 L53.50,218.40 L54.23,218.40 L54.23,220.15 L55.67,220.15 L55.67,221.90 L56.40,221.90 L57.12,221.90 L57.12,223.65 L58.57,223.65 L58.57,225.40 L59.30,225.40 L60.02,225.40 L60.02,227.10 L61.48,227.10 L61.48,228.80 L62.20,228.80 L63.05,228.80 L63.05,230.60 L63.90,230.60 L66.80,230.60 L66.80,230.60 L67.40,230.60 L67.40,232.30 L68.00,232.30 L69.45,232.30 L69.45,234.00 L70.90,234.00 L71.73,234.00 L71.73,235.35 L73.38,235.35 L73.38,236.70 L74.20,236.70 L75.90,236.70 L75.90,238.05 L79.30,238.05 L79.30,239.40 L81.00,239.40 L84.35,239.40 L84.35,241.00 L87.70,241.00 L90.40,241.00 L90.40,241.50 L93.10,241.50 L100.15,241.50 L100.15,242.10 L107.20,242.10 L107.53,242.10 L107.53,243.45 L108.17,243.45 L108.17,244.80 L108.50,244.80 L113.65,244.80 L113.65,245.10 L118.80,245.10 L119.60,245.10 L119.60,246.70 L120.40,246.70 L121.55,246.70 L121.55,249.00 L122.70,249.00 L135.00,249.00 L135.00,249.00 L135.75,249.00 L135.75,250.20 L136.50,250.20 L144.95,250.20 L144.95,250.50 L153.40,250.50 L153.78,250.50 L153.78,251.80 L154.53,251.80 L154.53,253.10 L154.90,253.10 L201.30,253.10 L201.30,253.20 L247.70,253.20" fill="none" stroke="#161690" stroke-width="2.0" stroke-linejoin="miter" stroke-linecap="butt"/>
<path d="M68.7,232.7 v-3.4 M72.1,235.0 v-3.4 M74.8,236.9 v-3.4 M77.5,238.0 v-3.4 M81.5,239.5 v-3.4 M83.6,240.0 v-3.4 M86.2,240.6 v-3.4 M88.3,241.1 v-3.4 M94.3,241.6 v-3.4 M96.3,241.6 v-3.4 M99.0,241.8 v-3.4 M101.0,241.8 v-3.4 M103.0,241.9 v-3.4 M107.1,242.1 v-3.4 M111.8,244.9 v-3.4 M113.8,245.0 v-3.4 M119.2,245.5 v-3.4 M121.2,247.5 v-3.4 M126.0,249.0 v-3.4 M127.2,249.0 v-3.4 M130.3,249.0 v-3.4 M132.6,249.0 v-3.4 M138.8,250.2 v-3.4 M141.1,250.3 v-3.4 M143.4,250.3 v-3.4 M145.7,250.4 v-3.4 M148.8,250.4 v-3.4 M151.1,250.5 v-3.4 M158.0,253.1 v-3.4 M161.1,253.1 v-3.4 M164.2,253.1 v-3.4 M167.2,253.1 v-3.4 M171.8,253.1 v-3.4 M176.5,253.1 v-3.4 M180.0,253.1 v-3.4 M189.0,253.1 v-3.4 M205.4,253.2 v-3.4 M208.5,253.2 v-3.4 M210.8,253.2 v-3.4 M213.8,253.2 v-3.4 M218.5,253.2 v-3.4 M220.8,253.2 v-3.4 M223.8,253.2 v-3.4 M226.2,253.2 v-3.4 M229.2,253.2 v-3.4 M232.3,253.2 v-3.4 M235.4,253.2 v-3.4 M246.2,253.2 v-3.4 " fill="none" stroke="#161690" stroke-width="1.4"/>

<path d="M314.80,212.50 L316.50,214.80 L319.90,219.20 L322.80,223.20 L325.70,227.10 L328.60,230.60 L331.50,233.50 L333.60,235.60 L338.50,239.20 L342.50,243.30 L346.50,247.30 L351.90,251.30 L358.60,254.70 L365.40,257.40 L372.10,259.40 L378.80,260.80 L385.60,262.60 L390.00,263.20 L393.50,264.80 L398.80,267.50 L403.60,271.20 L437.60,271.50 L439.70,274.80 L506.20,275.00 L506.20,283.20 L517.70,283.20" fill="none" stroke="#f2fa00" stroke-width="2.4" stroke-linejoin="miter" stroke-linecap="butt"/>
<path d="M406.5,271.2 v-3.0 M409.5,271.3 v-3.0 M415.0,271.3 v-3.0 M420.5,271.3 v-3.0 M425.0,271.4 v-3.0 M430.0,271.4 v-3.0 M432.0,271.5 v-3.0 M435.0,271.5 v-3.0 M437.5,271.5 v-3.0 M441.0,274.8 v-3.0 M445.0,274.8 v-3.0 M448.0,274.8 v-3.0 M455.0,274.8 v-3.0 M457.5,274.9 v-3.0 M460.0,274.9 v-3.0 M463.0,274.9 v-3.0 M466.0,274.9 v-3.0 M469.0,274.9 v-3.0 M473.0,274.9 v-3.0 M478.0,274.9 v-3.0 M484.0,274.9 v-3.0 M486.5,274.9 v-3.0 M489.0,274.9 v-3.0 M491.0,275.0 v-3.0 M498.0,275.0 v-3.0 M503.0,275.0 v-3.0 M508.5,283.2 v-3.0 M511.0,283.2 v-3.0 " fill="none" stroke="#f2fa00" stroke-width="1.5"/>

<path d="M314.80,212.50 L316.50,214.80 L319.90,219.20 L322.80,223.20 L325.70,227.10 L328.60,230.60 L331.50,233.50 L333.60,235.60 L338.50,239.20 L342.50,243.30 L346.50,247.30 L351.90,251.30 L358.60,254.70 L365.40,257.40 L372.10,259.40 L378.80,260.80 L385.60,262.60 L390.00,263.20 L393.50,264.80 L398.80,267.50 L400.00,268.43" fill="none" stroke="#f2fa00" stroke-width="3.4" stroke-linejoin="miter" stroke-linecap="butt"/>

<path d="M314.80,211.90 L315.90,211.90 L315.90,211.90 L317.35,211.90 L317.35,213.10 L318.80,213.10 L319.52,213.10 L319.52,214.40 L320.98,214.40 L320.98,215.70 L321.70,215.70 L323.10,215.70 L323.10,217.90 L324.50,217.90 L325.23,217.90 L325.23,219.90 L326.67,219.90 L326.67,221.90 L327.40,221.90 L328.12,221.90 L328.12,223.65 L329.57,223.65 L329.57,225.40 L330.30,225.40 L331.02,225.40 L331.02,227.15 L332.48,227.15 L332.48,228.90 L333.20,228.90 L334.05,228.90 L334.05,230.90 L334.90,230.90 L336.35,230.90 L336.35,231.30 L337.80,231.30 L338.65,231.30 L338.65,233.80 L339.50,233.80 L340.93,233.80 L340.93,235.15 L343.77,235.15 L343.77,236.50 L345.20,236.50 L347.20,236.50 L347.20,238.60 L349.20,238.60 L351.25,238.60 L351.25,239.90 L353.30,239.90 L364.00,239.90 L364.00,239.90 L365.35,239.90 L365.35,240.60 L366.70,240.60 L371.40,240.60 L371.40,241.20 L376.10,241.20 L378.80,241.20 L378.80,242.60 L381.50,242.60 L386.25,242.60 L386.25,243.30 L391.00,243.30 L391.55,243.30 L391.55,244.73 L392.65,244.73 L392.65,246.17 L393.75,246.17 L393.75,247.60 L394.30,247.60 L399.60,247.60 L399.60,248.10 L404.90,248.10 L405.70,248.10 L405.70,249.30 L406.50,249.30 L415.35,249.30 L415.35,249.60 L424.20,249.60 L424.95,249.60 L424.95,251.50 L425.70,251.50 L517.70,251.50 L517.70,251.50" fill="none" stroke="#161690" stroke-width="2.0" stroke-linejoin="miter" stroke-linecap="butt"/>
<path d="M337.8,231.3 v-3.4 M341.2,234.6 v-3.4 M343.8,235.8 v-3.4 M346.5,237.2 v-3.4 M349.2,238.6 v-3.4 M351.9,239.5 v-3.4 M353.9,239.9 v-3.4 M357.3,239.9 v-3.4 M359.3,239.9 v-3.4 M365.4,240.3 v-3.4 M368.1,240.7 v-3.4 M370.8,240.9 v-3.4 M372.8,241.0 v-3.4 M374.8,241.1 v-3.4 M378.2,241.7 v-3.4 M380.2,242.3 v-3.4 M384.2,242.8 v-3.4 M390.3,243.2 v-3.4 M397.2,247.7 v-3.4 M399.5,247.8 v-3.4 M401.8,248.0 v-3.4 M408.0,249.3 v-3.4 M411.1,249.4 v-3.4 M413.4,249.4 v-3.4 M415.7,249.5 v-3.4 M418.8,249.5 v-3.4 M421.1,249.5 v-3.4 M428.0,251.5 v-3.4 M430.3,251.5 v-3.4 M432.6,251.5 v-3.4 M434.9,251.5 v-3.4 M437.2,251.5 v-3.4 M442.0,251.5 v-3.4 M447.7,251.5 v-3.4 M450.0,251.5 v-3.4 M452.3,251.5 v-3.4 M460.2,251.5 v-3.4 M476.9,251.5 v-3.4 M480.0,251.5 v-3.4 M483.8,251.5 v-3.4 M490.8,251.5 v-3.4 M493.1,251.5 v-3.4 M496.9,251.5 v-3.4 M501.5,251.5 v-3.4 M506.2,251.5 v-3.4 M516.2,251.5 v-3.4 " fill="none" stroke="#161690" stroke-width="1.4"/>

<path d="M43.80,413.50 L45.50,413.80 L48.90,418.00 L51.20,421.80 L54.00,425.50 L57.00,428.80 L60.00,432.20 L62.80,435.10 L65.50,437.00 L68.50,438.60 L71.50,440.30 L74.30,442.00 L77.80,444.90 L82.40,447.80 L86.50,451.00 L90.40,454.00 L95.00,456.50 L99.70,458.70 L104.00,460.60 L106.60,461.50 L112.80,463.60 L118.90,465.10 L124.20,466.50 L130.30,468.40 L136.50,470.70 L142.60,472.20 L148.80,473.00 L161.10,473.00 L167.20,474.80 L173.40,475.30 L179.50,476.00 L185.70,476.80 L191.80,477.40 L198.50,478.00 L210.80,478.40 L226.20,478.60 L228.80,480.70 L233.80,481.00 L236.60,485.10 L247.70,485.60" fill="none" stroke="#f2fa00" stroke-width="2.8" stroke-linejoin="miter" stroke-linecap="butt"/>
<path d="M96.0,457.0 v-3.0 M98.2,458.0 v-3.0 M101.8,459.6 v-3.0 M105.4,461.1 v-3.0 M107.6,461.8 v-3.0 M110.2,462.7 v-3.0 M113.8,463.8 v-3.0 M116.8,464.6 v-3.0 M121.3,465.7 v-3.0 M124.9,466.7 v-3.0 M126.7,467.3 v-3.0 M130.3,468.4 v-3.0 M132.1,469.1 v-3.0 M135.1,470.2 v-3.0 M137.7,471.0 v-3.0 M141.3,471.9 v-3.0 M143.5,472.3 v-3.0 M145.7,472.6 v-3.0 M150.2,473.0 v-3.0 M153.2,473.0 v-3.0 M156.8,473.0 v-3.0 M160.4,473.0 v-3.0 M163.4,473.7 v-3.0 M166.4,474.6 v-3.0 M170.9,475.1 v-3.0 M173.1,475.3 v-3.0 M175.3,475.5 v-3.0 M179.8,476.0 v-3.0 M182.0,476.3 v-3.0 M185.6,476.8 v-3.0 M188.6,477.1 v-3.0 M193.1,477.5 v-3.0 M194.9,477.7 v-3.0 M199.4,478.0 v-3.0 M201.2,478.1 v-3.0 M203.4,478.2 v-3.0 M207.0,478.3 v-3.0 M208.8,478.3 v-3.0 M211.4,478.4 v-3.0 M213.2,478.4 v-3.0 M215.8,478.5 v-3.0 M218.8,478.5 v-3.0 M222.4,478.6 v-3.0 M226.9,479.2 v-3.0 M229.9,480.8 v-3.0 M234.4,481.9 v-3.0 M237.4,485.1 v-3.0 M240.4,485.3 v-3.0 M244.9,485.5 v-3.0 " fill="none" stroke="#f2fa00" stroke-width="1.5"/>

<path d="M43.80,413.50 L45.50,413.80 L48.90,418.00 L51.20,421.80 L54.00,425.50 L57.00,428.80 L60.00,432.20 L62.80,435.10 L65.50,437.00 L68.50,438.60 L71.50,440.30 L74.30,442.00 L77.80,444.90 L82.40,447.80 L86.50,451.00 L90.40,454.00 L95.00,456.50 L99.70,458.70 L104.00,460.60 L106.60,461.50 L112.80,463.60 L118.90,465.10 L124.20,466.50 L130.30,468.40 L136.50,470.70 L142.60,472.20 L148.80,473.00 L150.00,473.00" fill="none" stroke="#f2fa00" stroke-width="3.6" stroke-linejoin="miter" stroke-linecap="butt"/>

<path d="M43.80,414.00 L43.90,414.00 L43.90,414.40 L44.00,414.40 L44.25,414.40 L44.25,415.93 L44.75,415.93 L44.75,417.47 L45.25,417.47 L45.25,419.00 L45.50,419.00 L45.78,419.00 L45.78,420.53 L46.35,420.53 L46.35,422.07 L46.92,422.07 L46.92,423.60 L47.20,423.60 L47.58,423.60 L47.58,425.13 L48.35,425.13 L48.35,426.67 L49.12,426.67 L49.12,428.20 L49.50,428.20 L49.88,428.20 L49.88,429.57 L50.65,429.57 L50.65,430.93 L51.42,430.93 L51.42,432.30 L51.80,432.30 L52.52,432.30 L52.52,434.00 L53.98,434.00 L53.98,435.70 L54.70,435.70 L55.58,435.70 L55.58,437.15 L57.33,437.15 L57.33,438.60 L58.20,438.60 L59.08,438.60 L59.08,440.10 L60.85,440.10 L60.85,441.60 L62.62,441.60 L62.62,443.10 L63.50,443.10 L65.17,443.10 L65.17,444.45 L68.53,444.45 L68.53,445.80 L70.20,445.80 L71.88,445.80 L71.88,447.15 L75.23,447.15 L75.23,448.50 L76.90,448.50 L78.58,448.50 L78.58,449.85 L81.92,449.85 L81.92,451.20 L83.60,451.20 L87.00,451.20 L87.00,453.20 L90.40,453.20 L92.08,453.20 L92.08,454.55 L95.42,454.55 L95.42,455.90 L97.10,455.90 L98.77,455.90 L98.77,457.55 L102.12,457.55 L102.12,459.20 L103.80,459.20 L105.50,459.20 L105.50,460.55 L108.90,460.55 L108.90,461.90 L110.60,461.90 L113.95,461.90 L113.95,463.90 L117.30,463.90 L119.60,463.90 L119.60,465.10 L121.90,465.10 L122.88,465.10 L122.88,466.40 L124.83,466.40 L124.83,467.70 L125.80,467.70 L140.80,467.70 L140.80,468.00 L155.80,468.00 L155.80,468.00 L155.80,474.00 L171.80,474.00 L171.80,474.00 L171.80,474.00 L171.80,479.70 L209.75,479.70 L209.75,479.80 L247.70,479.80" fill="none" stroke="#d81616" stroke-width="2.0" stroke-linejoin="miter" stroke-linecap="butt"/>
<path d="M62.7,442.4 v-3.4 M65.4,443.9 v-3.4 M68.1,445.0 v-3.4 M70.8,446.0 v-3.4 M73.5,447.1 v-3.4 M75.5,447.9 v-3.4 M78.8,449.3 v-3.4 M81.5,450.4 v-3.4 M83.6,451.2 v-3.4 M86.2,452.0 v-3.4 M88.9,452.8 v-3.4 M93.0,454.2 v-3.4 M95.7,455.3 v-3.4 M99.0,456.8 v-3.4 M101.7,458.2 v-3.4 M108.5,461.1 v-3.4 M111.1,462.0 v-3.4 M113.8,462.9 v-3.4 M116.5,463.7 v-3.4 M129.5,467.7 v-3.4 M132.6,467.8 v-3.4 M138.0,467.8 v-3.4 M144.9,467.9 v-3.4 M147.2,467.9 v-3.4 M149.5,467.9 v-3.4 M151.8,468.0 v-3.4 M153.4,468.0 v-3.4 M157.2,474.0 v-3.4 M159.5,474.0 v-3.4 M174.9,479.7 v-3.4 M184.4,479.7 v-3.4 M191.3,479.7 v-3.4 M199.2,479.7 v-3.4 M201.5,479.7 v-3.4 M209.2,479.7 v-3.4 M212.3,479.8 v-3.4 M220.8,479.8 v-3.4 " fill="none" stroke="#d81616" stroke-width="1.4"/>

<path d="M314.80,413.50 L316.50,414.60 L319.90,419.80 L323.40,425.00 L326.80,429.70 L330.30,433.10 L333.80,436.20 L335.80,438.60 L342.50,444.20 L349.20,450.90 L356.00,456.30 L362.70,460.40 L369.40,463.10 L376.10,464.40 L382.90,465.80 L392.30,467.80 L395.70,468.50 L403.40,469.70 L425.70,470.30 L435.70,470.50 L440.30,472.80 L455.40,473.10 L456.90,476.20 L464.60,476.90 L466.20,479.70 L506.20,480.80 L507.70,486.90 L517.70,487.50" fill="none" stroke="#f2fa00" stroke-width="2.4" stroke-linejoin="miter" stroke-linecap="butt"/>
<path d="M405.0,469.7 v-3.0 M410.0,469.9 v-3.0 M418.0,470.1 v-3.0 M423.0,470.2 v-3.0 M428.0,470.3 v-3.0 M431.0,470.4 v-3.0 M434.0,470.5 v-3.0 M437.0,471.1 v-3.0 M446.0,472.9 v-3.0 M451.0,473.0 v-3.0 M455.0,473.1 v-3.0 M461.0,476.6 v-3.0 M466.0,479.4 v-3.0 M470.0,479.8 v-3.0 M474.0,479.9 v-3.0 M480.0,480.1 v-3.0 M484.0,480.2 v-3.0 M488.0,480.3 v-3.0 M492.0,480.4 v-3.0 M497.0,480.5 v-3.0 M501.0,480.7 v-3.0 " fill="none" stroke="#f2fa00" stroke-width="1.5"/>

<path d="M314.80,413.50 L316.50,414.60 L319.90,419.80 L323.40,425.00 L326.80,429.70 L330.30,433.10 L333.80,436.20 L335.80,438.60 L342.50,444.20 L349.20,450.90 L356.00,456.30 L362.70,460.40 L369.40,463.10 L376.10,464.40 L382.90,465.80 L392.30,467.80 L395.70,468.50 L400.00,469.17" fill="none" stroke="#f2fa00" stroke-width="3.4" stroke-linejoin="miter" stroke-linecap="butt"/>

<path d="M314.80,413.80 L315.35,413.80 L315.35,414.90 L315.90,414.90 L316.17,414.90 L316.17,416.65 L316.73,416.65 L316.73,418.40 L317.00,418.40 L317.20,418.40 L317.20,419.93 L317.60,419.93 L317.60,421.47 L318.00,421.47 L318.00,423.00 L318.20,423.00 L318.62,423.00 L318.62,424.75 L319.47,424.75 L319.47,426.50 L319.90,426.50 L320.35,426.50 L320.35,427.95 L321.25,427.95 L321.25,429.40 L321.70,429.40 L322.12,429.40 L322.12,431.10 L322.97,431.10 L322.97,432.80 L323.40,432.80 L323.82,432.80 L323.82,434.65 L324.68,434.65 L324.68,436.50 L325.10,436.50 L326.08,436.50 L326.08,438.70 L328.02,438.70 L328.02,440.90 L329.00,440.90 L330.02,440.90 L330.02,442.55 L332.08,442.55 L332.08,444.20 L333.10,444.20 L335.80,444.20 L335.80,446.90 L338.50,446.90 L341.15,446.90 L341.15,448.90 L343.80,448.90 L347.85,448.90 L347.85,450.30 L351.90,450.30 L354.60,450.30 L354.60,452.30 L357.30,452.30 L360.00,452.30 L360.00,454.30 L362.70,454.30 L365.40,454.30 L365.40,456.30 L368.10,456.30 L370.10,456.30 L370.10,459.00 L372.10,459.00 L374.10,459.00 L374.10,461.70 L376.10,461.70 L378.80,461.70 L378.80,463.70 L381.50,463.70 L384.20,463.70 L384.20,465.10 L386.90,465.10 L389.00,465.10 L389.00,466.20 L391.10,466.20 L392.35,466.20 L392.35,467.10 L393.60,467.10 L394.33,467.10 L394.33,468.50 L395.77,468.50 L395.77,469.90 L396.50,469.90 L426.20,469.90 L426.20,469.90 L426.20,469.90 L426.20,477.20 L441.80,477.20 L441.80,477.20 L441.80,477.20 L441.80,484.30 L517.70,484.30 L517.70,484.30" fill="none" stroke="#d81616" stroke-width="2.0" stroke-linejoin="miter" stroke-linecap="butt"/>
<path d="M333.1,444.2 v-3.4 M335.8,445.5 v-3.4 M339.8,447.4 v-3.4 M342.5,448.4 v-3.4 M345.2,449.1 v-3.4 M348.6,449.7 v-3.4 M351.9,450.3 v-3.4 M357.3,452.3 v-3.4 M360.0,453.3 v-3.4 M364.0,454.8 v-3.4 M369.4,457.2 v-3.4 M372.1,459.0 v-3.4 M376.1,461.7 v-3.4 M381.5,463.7 v-3.4 M384.2,464.4 v-3.4 M388.3,465.5 v-3.4 M390.9,466.1 v-3.4 M394.9,468.4 v-3.4 M401.8,469.9 v-3.4 M404.9,469.9 v-3.4 M409.5,469.9 v-3.4 M415.7,469.9 v-3.4 M418.0,469.9 v-3.4 M420.3,469.9 v-3.4 M423.4,469.9 v-3.4 M428.0,477.2 v-3.4 M430.3,477.2 v-3.4 M445.2,484.3 v-3.4 M455.2,484.3 v-3.4 M462.0,484.3 v-3.4 M470.0,484.3 v-3.4 M472.3,484.3 v-3.4 M480.0,484.3 v-3.4 M484.6,484.3 v-3.4 " fill="none" stroke="#d81616" stroke-width="1.4"/>

<line x1="52.3" y1="102.6" x2="68.1" y2="102.6" stroke="#161690" stroke-width="1.4"/><line x1="60.2" y1="102.6" x2="60.2" y2="99.6" stroke="#161690" stroke-width="1.1"/><text transform="translate(75.0,106.9) scale(0.905,1)" class="lg">RT + CT (n = 155)</text>
<line x1="52.3" y1="121.8" x2="68.1" y2="121.8" stroke="#d81616" stroke-width="1.4"/><line x1="60.2" y1="121.8" x2="60.2" y2="118.8" stroke="#d81616" stroke-width="1.1"/><text transform="translate(75.0,125.6) scale(0.905,1)" class="lg">RT alone (n = 163)</text>
<text transform="translate(180.6,125.6) scale(0.935,1)" class="pv"><tspan font-style="italic">P</tspan> = 0.017</text>
<line x1="325.6" y1="103.5" x2="341.0" y2="103.5" stroke="#161690" stroke-width="1.4"/><line x1="333.3" y1="103.5" x2="333.3" y2="100.5" stroke="#161690" stroke-width="1.1"/><text transform="translate(347.9,107.8) scale(0.905,1)" class="lg">RT + CT (n = 119)</text>
<line x1="325.6" y1="122.4" x2="341.0" y2="122.4" stroke="#d81616" stroke-width="1.4"/><line x1="333.3" y1="122.4" x2="333.3" y2="119.4" stroke="#d81616" stroke-width="1.1"/><text transform="translate(347.9,126.2) scale(0.905,1)" class="lg">RT alone (n = 119)</text>
<text transform="translate(455.9,126.2) scale(0.935,1)" class="pv"><tspan font-style="italic">P</tspan> = 0.042</text>
<line x1="50.8" y1="304.9" x2="66.5" y2="304.9" stroke="#161690" stroke-width="1.4"/><line x1="58.6" y1="304.9" x2="58.6" y2="301.9" stroke="#161690" stroke-width="1.1"/><text transform="translate(74.0,308.3) scale(0.905,1)" class="lg">RT + CT (n = 155)</text>
<line x1="49.0" y1="322.6" x2="66.0" y2="322.6" stroke="#eeee40" stroke-width="2.0"/><line x1="57.5" y1="322.6" x2="57.5" y2="319.6" stroke="#eeee40" stroke-width="1.1"/><text transform="translate(74.0,325.9) scale(0.905,1)" class="lg">CT + RT (n = 509)</text>
<text transform="translate(181.2,325.9) scale(0.935,1)" class="pv"><tspan font-style="italic">P</tspan> = 0.004</text>
<line x1="325.2" y1="305.5" x2="340.6" y2="305.5" stroke="#161690" stroke-width="1.4"/><line x1="332.9" y1="305.5" x2="332.9" y2="302.5" stroke="#161690" stroke-width="1.1"/><text transform="translate(347.5,308.9) scale(0.905,1)" class="lg">RT + CT (n = 151)</text>
<line x1="324.0" y1="323.4" x2="340.6" y2="323.4" stroke="#eeee40" stroke-width="2.0"/><line x1="332.3" y1="323.4" x2="332.3" y2="320.4" stroke="#eeee40" stroke-width="1.1"/><text transform="translate(347.5,327.0) scale(0.905,1)" class="lg">CT + RT (n = 151)</text>
<text transform="translate(457.1,327.0) scale(0.935,1)" class="pv"><tspan font-style="italic">P</tspan> = 0.002</text>
<line x1="57.5" y1="504.6" x2="73.5" y2="504.6" stroke="#d81616" stroke-width="1.4"/><line x1="65.5" y1="504.6" x2="65.5" y2="501.6" stroke="#d81616" stroke-width="1.1"/><text transform="translate(80.4,508.5) scale(0.905,1)" class="lg">RT alone (n = 163)</text>
<line x1="56.0" y1="523.7" x2="73.5" y2="523.7" stroke="#eeee40" stroke-width="2.0"/><line x1="64.8" y1="523.7" x2="64.8" y2="520.7" stroke="#eeee40" stroke-width="1.1"/><text transform="translate(80.4,527.0) scale(0.905,1)" class="lg">CT + RT (n = 509)</text>
<text transform="translate(188.2,527.0) scale(0.935,1)" class="pv"><tspan font-style="italic">P</tspan> = 0.913</text>
<line x1="330.4" y1="504.6" x2="346.4" y2="504.6" stroke="#d81616" stroke-width="1.4"/><line x1="338.4" y1="504.6" x2="338.4" y2="501.6" stroke="#d81616" stroke-width="1.1"/><text transform="translate(353.7,508.8) scale(0.905,1)" class="lg">RT alone (n = 140)</text>
<line x1="329.0" y1="524.3" x2="346.4" y2="524.3" stroke="#eeee40" stroke-width="2.0"/><line x1="337.7" y1="524.3" x2="337.7" y2="521.3" stroke="#eeee40" stroke-width="1.1"/><text transform="translate(353.7,527.3) scale(0.905,1)" class="lg">CT + RT (n = 140)</text>
<text transform="translate(458.9,527.3) scale(0.935,1)" class="pv"><tspan font-style="italic">P</tspan> = 0.757</text>
</svg>
</body></html>
